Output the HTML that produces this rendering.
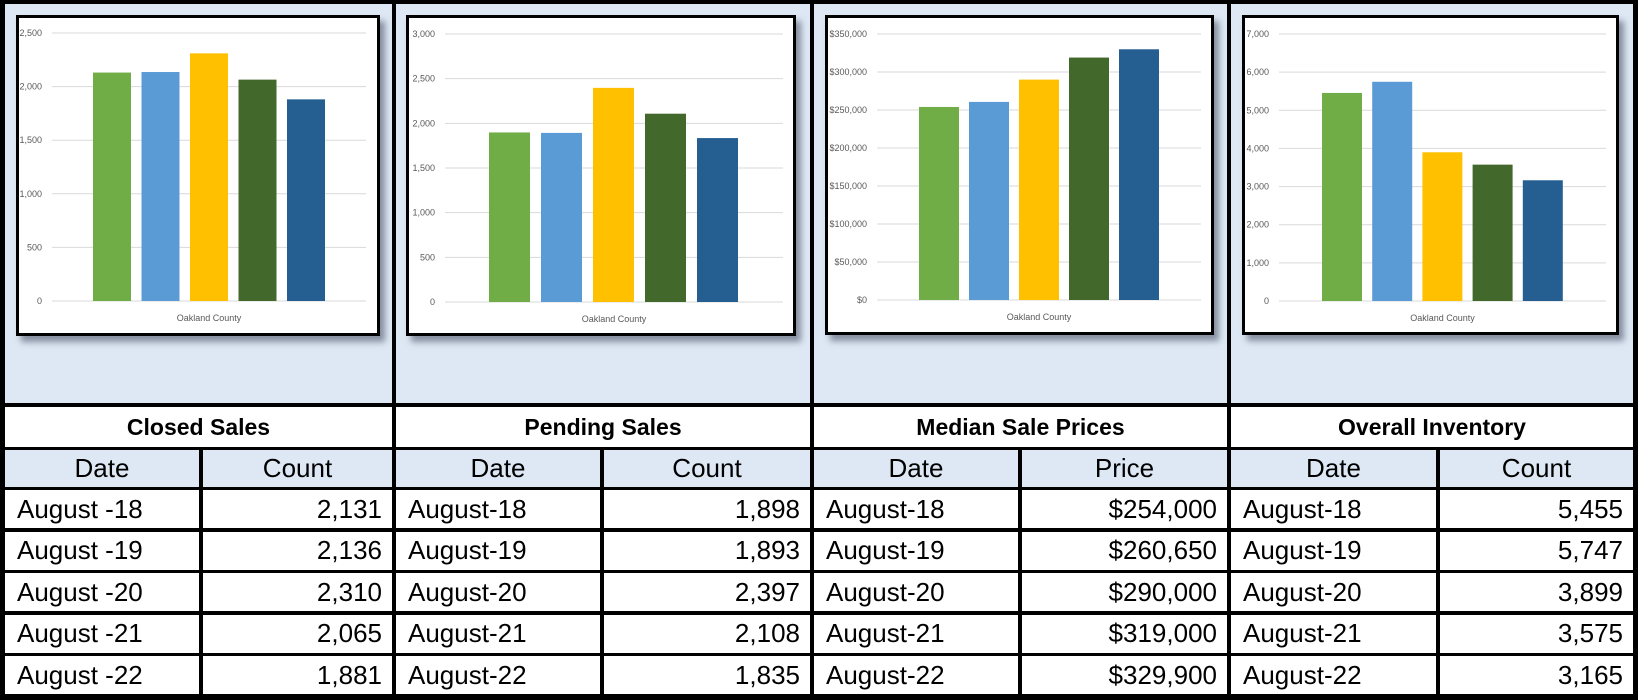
<!DOCTYPE html>
<html><head><meta charset="utf-8">
<style>
html,body{margin:0;padding:0;width:1638px;height:700px;overflow:hidden;background:#000;font-family:"Liberation Sans",sans-serif;}
#wrap{position:absolute;left:0;top:0;width:1638px;height:700px;background:#000;}
.top{position:absolute;top:4px;height:399px;background:#dde8f4;}
.chartbox{position:absolute;background:#fff;border:3px solid #000;box-shadow:5px 6px 6px rgba(60,70,90,0.55);box-sizing:border-box;}
.cell{position:absolute;box-sizing:border-box;display:flex;align-items:center;color:#000;}
.title{background:#fff;justify-content:center;font-weight:bold;font-size:23px;}
.hdr{background:#dde8f4;justify-content:center;font-size:26px;}
.d{background:#fff;font-size:26px;padding-left:12px;}
.v{background:#fff;font-size:26px;justify-content:flex-end;padding-right:10px;}
svg text{font-family:"Liberation Sans",sans-serif;}
</style></head><body>
<div id="wrap"></div>
<script>
// ---- chart data ----
const categories = ["August-18","August-19","August-20","August-21","August-22"];
const closedValues = [2131,2136,2310,2065,1881];
const pendingValues = [1898,1893,2397,2108,1835];
const priceValues = [254000,260650,290000,319000,329900];
const inventoryValues = [5455,5747,3899,3575,3165];
const closedTicks = [0,500,1000,1500,2000,2500];
const pendingTicks = [0,500,1000,1500,2000,2500,3000];
const priceTicks = [0,50000,100000,150000,200000,250000,300000,350000];
const inventoryTicks = [0,1000,2000,3000,4000,5000,6000,7000];
const closedLabels = ["August -18","August -19","August -20","August -21","August -22"];
const closedCounts = ["2,131","2,136","2,310","2,065","1,881"];
const pendingCounts = ["1,898","1,893","2,397","2,108","1,835"];
const priceLabels = ["$254,000","$260,650","$290,000","$319,000","$329,900"];
const inventoryCounts = ["5,455","5,747","3,899","3,575","3,165"];

const colors = ["#70ad47","#5b9bd5","#ffc000","#43682b","#255e91"];
const wrap = document.getElementById('wrap');
const NS = "http://www.w3.org/2000/svg";

const sections = [
  {left:5, right:392, divider:199, name:'closed-sales', title:'Closed Sales', h2:'Count', labels:closedLabels, vals:closedCounts,
   box:[16,15,364,321], plot:[52,33,366,301], bar0:93, barW:38, step:48.5, data:closedValues, ticks:closedTicks, fmt:v=>v.toLocaleString('en-US')},
  {left:396, right:810, divider:600, name:'pending-sales', title:'Pending Sales', h2:'Count', labels:categories, vals:pendingCounts,
   box:[406,15,390,321], plot:[445,34,783,302], bar0:489, barW:41, step:52, data:pendingValues, ticks:pendingTicks, fmt:v=>v.toLocaleString('en-US')},
  {left:814, right:1227, divider:1018, name:'median-sale-prices', title:'Median Sale Prices', h2:'Price', labels:categories, vals:priceLabels,
   box:[825,15,389,320], plot:[877,34,1201,300], bar0:919, barW:40, step:50, data:priceValues, ticks:priceTicks, fmt:v=>'$'+v.toLocaleString('en-US')},
  {left:1231, right:1633, divider:1436, name:'overall-inventory', title:'Overall Inventory', h2:'Count', labels:categories, vals:inventoryCounts,
   box:[1242,15,377,320], plot:[1279,34,1606,301], bar0:1322, barW:40, step:50.2, data:inventoryValues, ticks:inventoryTicks, fmt:v=>v.toLocaleString('en-US')}
];

function mk(tag, cls, style, text){
  const e=document.createElement(tag);
  if(cls) e.className=cls;
  Object.assign(e.style, style);
  if(text!==undefined) e.textContent=text;
  wrap.appendChild(e);
  return e;
}
function px(n){return n+'px';}

sections.forEach(s=>{
  const top = mk('div','top',{left:px(s.left),width:px(s.right-s.left)});
  
  

  const b = s.box;
  const box = mk('div','chartbox',{left:px(b[0]),top:px(b[1]),width:px(b[2]),height:px(b[3])});
  
  

  const svg = document.createElementNS(NS,'svg');
  svg.setAttribute('width', b[2]-6); svg.setAttribute('height', b[3]-6);
  svg.style.position='absolute'; svg.style.left='0'; svg.style.top='0';
  box.appendChild(svg);
  const ox=b[0]+3, oy=b[1]+3;
  const [x0,yTop,x1,yBot]=s.plot;
  const maxT = s.ticks[s.ticks.length-1];
  const yS = v => yBot - (v/maxT)*(yBot-yTop) - oy;

  s.ticks.forEach(t=>{
    const l=document.createElementNS(NS,'line');
    l.setAttribute('x1',x0-ox); l.setAttribute('x2',x1-ox);
    l.setAttribute('y1',yS(t)); l.setAttribute('y2',yS(t));
    l.setAttribute('stroke', '#d9d9d9'); l.setAttribute('stroke-width','1');
    
    
    svg.appendChild(l);
    const tx=document.createElementNS(NS,'text');
    tx.setAttribute('x',x0-ox-10); tx.setAttribute('y',yS(t)+3);
    tx.setAttribute('text-anchor','end'); tx.setAttribute('font-size','9');
    tx.setAttribute('fill','#595959');
    tx.textContent=s.fmt(t);
    
    
    svg.appendChild(tx);
  });
  s.data.forEach((v,i)=>{
    const r=document.createElementNS(NS,'rect');
    const bx = s.bar0 + i*s.step - ox;
    r.setAttribute('x',bx); r.setAttribute('width',s.barW);
    r.setAttribute('y',yS(v)); r.setAttribute('height',yS(0)-yS(v));
    r.setAttribute('fill',colors[i]);
    
    
    svg.appendChild(r);
  });
  const xl=document.createElementNS(NS,'text');
  xl.setAttribute('x',(x0+x1)/2-ox); xl.setAttribute('y',yBot-oy+20);
  xl.setAttribute('text-anchor','middle'); xl.setAttribute('font-size','9');
  xl.setAttribute('fill','#595959');
  xl.textContent='Oakland County';
  
  
  svg.appendChild(xl);

  // table
  const w=s.right-s.left;
  const t = mk('div','cell title',{left:px(s.left),top:'407px',width:px(w),height:'40px'}, s.title);
  
  
  const h1 = mk('div','cell hdr',{left:px(s.left),top:'450px',width:px(s.divider-s.left),height:'37px'},'Date');
  
  
  const h2 = mk('div','cell hdr',{left:px(s.divider+4),top:'450px',width:px(s.right-s.divider-4),height:'37px'},s.h2);
  
  
  for(let i=0;i<5;i++){
    const ty = 490 + i*41.5;
    const d = mk('div','cell d',{left:px(s.left),top:px(ty),width:px(s.divider-s.left),height:'38px'}, s.labels[i]);
    
    
    const v = mk('div','cell v',{left:px(s.divider+4),top:px(ty),width:px(s.right-s.divider-4),height:'38px'}, s.vals[i]);
    
    
  }
});
</script>
</body></html>
